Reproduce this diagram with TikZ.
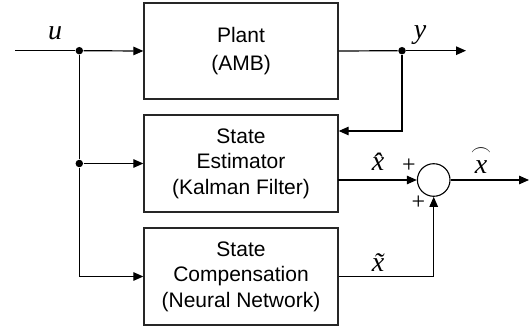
\documentclass[tikz,border=0pt]{standalone}
\usepackage{amsmath}
\usepackage{fontspec}
\setmainfont{Liberation Sans}
\newfontfamily\lserif{Liberation Serif}
\usetikzlibrary{arrows.meta}
\begin{document}
\begin{tikzpicture}[x=1pt,y=-1pt,
  every path/.style={line width=1.2pt},
  block/.style={draw=black!85, line width=1.3pt, minimum width=194pt, minimum height=97pt,
    align=center, inner sep=0pt, font=\fontsize{21}{25.5}\selectfont},
  sumnode/.style={draw, circle, minimum size=32.6pt, inner sep=0pt, line width=1.1pt},
  sig/.style={font=\fontsize{28}{32}\selectfont\lserif\itshape, inner sep=0pt, anchor=base},
  sgn/.style={font=\fontsize{24}{24}\selectfont\lserif, inner sep=0pt},
  flow/.style={-{Triangle[length=10pt,width=8.5pt]}},
  dot/.style={circle, fill, inner sep=0pt, minimum size=7.5pt}]
\useasboundingbox (0,0) rectangle (529,328);

% blocks
\node[block, minimum height=96pt, font=\fontsize{21}{28.5}\selectfont] (plant) at (241,51) {Plant\\(AMB)};
\node[block] (est) at (241,163.5) {State\\Estimator\\(Kalman Filter)};
\node[block] (comp) at (241,276.5) {State\\Compensation\\(Neural Network)};
\node[sumnode] (sum) at (433.7,180) {};

% branch points and free ends
\coordinate (uin) at (15,50.7);
\node[dot] (j1) at (79.3,50.7) {};
\node[dot] (j2) at (79.3,163.5) {};
\node[dot] (yj) at (402,50.7) {};
\coordinate (yout) at (466,50.7);
\coordinate (fb) at (402,131);
\coordinate (eo) at (338,180);
\coordinate (xout) at (529,180);

% input distribution
\draw (uin) -- (j1);
\draw[flow] (j1) -- (plant.west);
\draw (j1) -- (j2);
\draw[flow] (j2) -- (est.west);
\draw[flow] (j2) |- (comp.west);

% plant output and feedback to the estimator
\draw (plant.east) -- (yj);
\draw[flow] (yj) -- (yout);
\draw[flow] (yj) -- (fb) -- (est.east |- fb);

% summation of estimate and compensation
\draw[flow] (eo) -- (sum.west);
\draw[flow] (comp.east) -| (sum.south);
\draw[flow] (sum.east) -- (xout);

% signal labels
\node[sig] (lu) at (55,40) {u};
\node[sig] (ly) at (420,38.5) {y};
\node[sig] (lxh) at (378,171) {\^{x}};
\node[sig] (lxt) at (378,271) {\~{x}};
\node[sig] (lxo) at (481,173.5) {$\overset{\frown}{\text{\lserif\itshape x}}$};
\node[sgn] (p1) at (409,165.7) {+};
\node[sgn] (p2) at (418.3,202.3) {+};
\end{tikzpicture}
\end{document}
